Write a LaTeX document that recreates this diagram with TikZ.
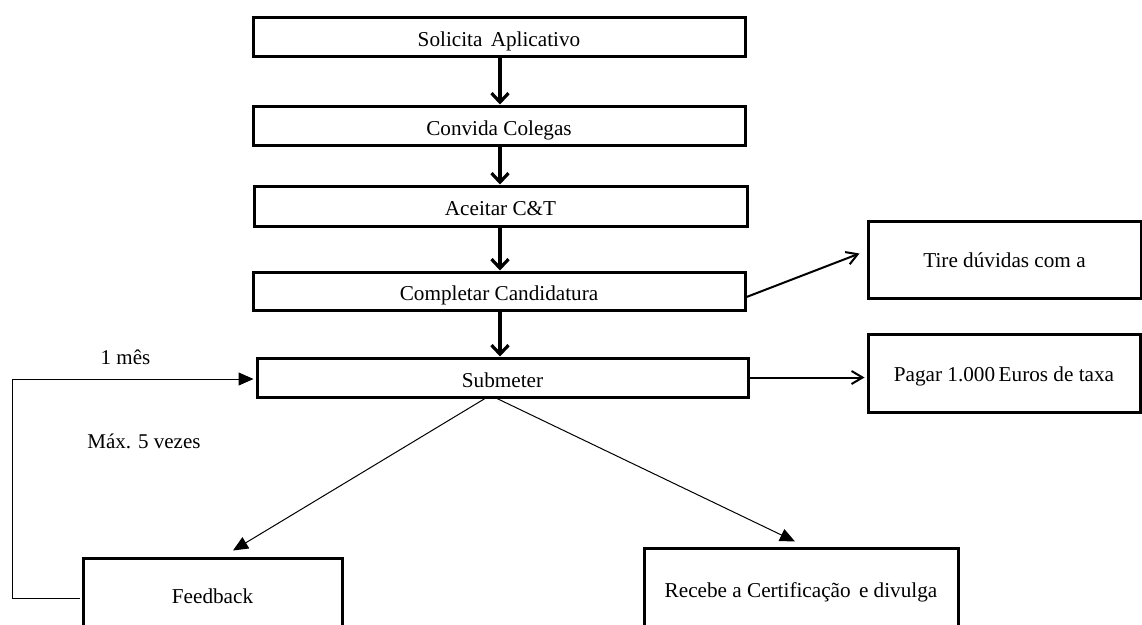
\documentclass[tikz,border=0pt]{standalone}
\usepackage{fontspec}
\setmainfont{Liberation Serif}
\usetikzlibrary{arrows.meta,calc}
\begin{document}
\begin{tikzpicture}[x=1pt,y=-1pt,
  box/.style={draw, line width=3pt, inner sep=0pt, font=\fontsize{21.2}{24}\selectfont, text height=16pt, text depth=0pt},
  mainbox/.style={box, text height=19pt},
  thickarrow/.style={line width=3.2pt, -{Straight Barb[length=9pt,width=17pt]}},
  sidearrow/.style={line width=2pt, -{Straight Barb[length=11pt,width=13pt]}},
  thinarrow/.style={line width=1pt, -{Triangle[length=15pt,width=13pt]}},
  lbl/.style={font=\fontsize{21}{24}\selectfont, inner sep=0pt, anchor=base}]
\useasboundingbox (0,0) rectangle (1142,624);
\clip (0,0) rectangle (1142,624);
\fill[white] (0,0) rectangle (1142,624);

\node[mainbox, minimum width=492pt, minimum height=39pt] (s1) at (499,36.5) {Solicita\hspace{3pt} Aplicativo};
\node[mainbox, minimum width=492pt, minimum height=39pt] (s2) at (499,125.5) {Convida Colegas};
\node[mainbox, minimum width=493pt, minimum height=40pt] (s3) at (500.5,206) {Aceitar C\&T};
\node[mainbox, minimum width=492pt, minimum height=38pt] (s4) at (499,291) {Completar Candidatura};
\node[mainbox, minimum width=491pt, minimum height=39pt] (s5) at (502.5,377.5) {Submeter};
\node[box, minimum width=273pt, minimum height=77pt] (tire) at (1004.5,259.5) {Tire dúvidas com a};
\node[box, minimum width=272pt, minimum height=78pt] (pag) at (1004,373) {Pagar 1.000\,Euros de taxa};
\node[box, minimum width=259pt, minimum height=74pt] (fb) at (212.5,595) {Feedback};
\node[box, minimum width=314pt, minimum height=82pt] (rec) at (801,589) {Recebe a Certificação\hspace{3pt} e divulga};

\node[lbl] (l1) at (125.5,364) {1 mês};
\node[lbl] (l2) at (144,448) {Máx. 5 vezes};

\draw[thickarrow] ($(s1.south)+(1,0)$) -- ($(s2.north)+(1,0)$);
\draw[thickarrow] ($(s2.south)+(1,0)$) -- ($(s3.north)+(-0.5,0)$);
\draw[thickarrow] ($(s3.south)+(-0.5,0)$) -- ($(s4.north)+(1,0)$);
\draw[thickarrow] ($(s4.south)+(1,0)$) -- ($(s5.north)+(-2.5,0)$);

\draw[sidearrow] ($(s4.east)+(0,6)$) -- ($(tire.west)+(-7,-6)$);
\draw[sidearrow] (s5.east) -- ($(pag.west)+(-2,4.5)$);

\draw[thinarrow] ($(s5.south)+(-17.5,0)$) -- ($(fb.north)+(20.5,-6)$);
\draw[thinarrow] ($(s5.south)+(-5.5,0)$) -- ($(rec.north)+(-6,-5)$);

\coordinate (c1) at (12,598);
\draw[thinarrow] ($(fb.west)+(-2,3)$) -- (c1) |- ($(s5.west)+(-2,1.5)$);
\end{tikzpicture}
\end{document}
